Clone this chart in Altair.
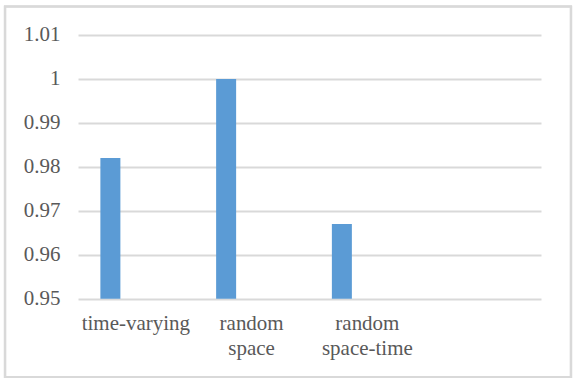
import altair as alt
import pandas as pd

categories = ["time-varying", "random space", "random space-time"]
values = [0.982, 1.0, 0.967]
domain_cats = categories + [" "]
y_ticks = [0.95, 0.96, 0.97, 0.98, 0.99, 1.0, 1.01]

df = pd.DataFrame({"cat": categories, "val": values})

W, H = 463, 263.7
FONT = "'Liberation Serif', serif"

bars = alt.Chart(df).mark_bar(
    color="#5b9bd5", width=20, xOffset=-25.5, clip=True
).encode(
    x=alt.X("cat:N", sort=domain_cats,
            scale=alt.Scale(domain=domain_cats, paddingInner=0, paddingOuter=0),
            axis=alt.Axis(title=None, labelAngle=0, ticks=False, domain=False,
                          labelExpr="split(datum.value, ' ')",
                          labelPadding=14, labelLineHeight=24.5,
                          labelFont=FONT, labelFontSize=21, labelColor="#595959")),
    y=alt.Y("val:Q", scale=alt.Scale(domain=[0.95, 1.01], zero=False, nice=False),
            axis=alt.Axis(title=None, values=y_ticks, format=".2~f", grid=True,
                          gridColor="#d9d9d9", gridWidth=1.8, domain=False, ticks=False,
                          labelPadding=18, labelFont=FONT, labelFontSize=21,
                          labelColor="#595959")),
)

border = alt.Chart(df).mark_rect(
    fill=None, stroke="#d9d9d9", strokeWidth=2.2
).encode(
    x=alt.value(-73), x2=alt.value(493), y=alt.value(-28.5), y2=alt.value(342)
)

chart = alt.layer(border, bars).properties(
    width=W, height=H,
    padding={"left": 78, "top": 35, "right": 35, "bottom": 82},
    autosize=alt.AutoSizeParams(type="none"),
    background="white",
).configure(font=FONT).configure_view(stroke=None)

chart.save("out.html", embed_options={"renderer": "svg", "actions": False})
